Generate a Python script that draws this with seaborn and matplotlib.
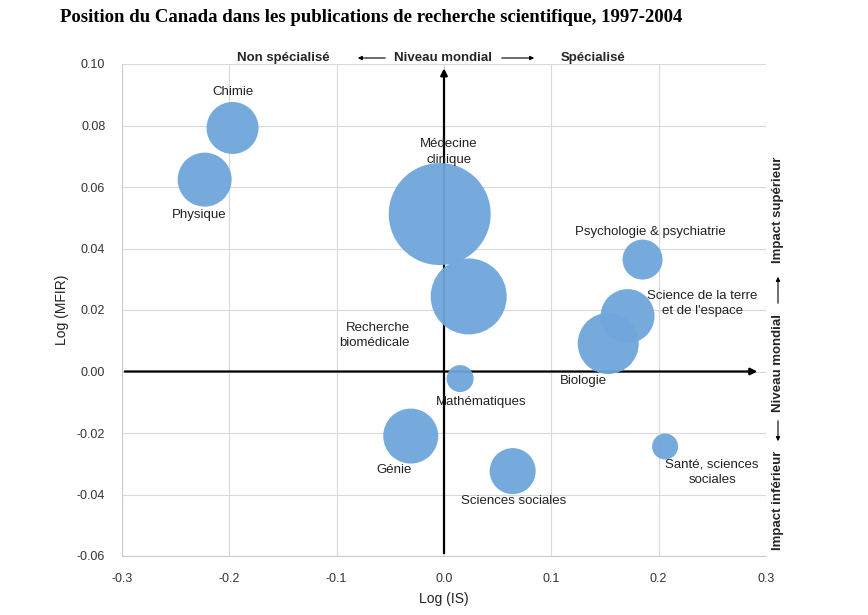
import matplotlib.pyplot as plt
import seaborn as sns
import pandas as pd

# Données
disciplines = ["Chimie", "Physique", "Médecine\nclinique", "Recherche\nbiomédicale",
               "Mathématiques", "Génie", "Sciences sociales", "Psychologie & psychiatrie",
               "Science de la terre\net de l'espace", "Biologie", "Santé, sciences\nsociales"]
log_is = [-0.197, -0.223, -0.004, 0.023, 0.015, -0.031, 0.064, 0.185, 0.171, 0.153, 0.206]
log_mfir = [0.0792, 0.0624, 0.0512, 0.0244, -0.0023, -0.0210, -0.0324, 0.0364, 0.0180, 0.0091, -0.0244]
volume = [676, 729, 2600, 1444, 182, 756, 529, 400, 729, 930, 169]

x_ticks = [-0.3, -0.2, -0.1, 0.0, 0.1, 0.2, 0.3]
y_ticks = [-0.06, -0.04, -0.02, 0.00, 0.02, 0.04, 0.06, 0.08, 0.10]

# décalage des étiquettes (pixels) et alignement
label_offsets = [(0, 36), (-5, -35), (9, 62), (-59, -39), (21, -23), (-17, -34),
                 (1, -30), (8, 28), (75, 13), (-25, -37), (47, -26)]
label_align = ["center", "center", "center", "right", "center", "center",
               "center", "center", "center", "center", "center"]

df = pd.DataFrame({"discipline": disciplines, "Log (IS)": log_is,
                   "Log (MFIR)": log_mfir, "volume": volume})

sns.set_style("white")
plt.rcParams["font.family"] = ["Liberation Sans", "DejaVu Sans"]
plt.rcParams["axes.unicode_minus"] = False

W, H = 868, 615
fig = plt.figure(figsize=(W / 100, H / 100), dpi=100)
ax = fig.add_axes([122 / W, 1 - 556 / H, (766 - 122) / W, (556 - 64) / H])

# bulles
k = 1.44 ** 2
sns.scatterplot(data=df, x="Log (IS)", y="Log (MFIR)", size="volume",
                sizes=(min(volume) * k, max(volume) * k), color="#6fa6dc",
                linewidth=0, alpha=0.95, legend=False, ax=ax, zorder=3)

for i, name in enumerate(disciplines):
    dx, dy = label_offsets[i]
    ax.annotate(name, (log_is[i], log_mfir[i]), xytext=(dx, dy),
                textcoords="offset pixels", ha=label_align[i], va="center",
                fontsize=9.5, color="#222222", linespacing=1.35, zorder=4)

# axes centraux avec flèches
ax.annotate("", xy=(0, 0.0995), xytext=(0, -0.06),
            arrowprops=dict(arrowstyle="-|>", color="black", lw=1.6, mutation_scale=10),
            zorder=2)
ax.annotate("", xy=(0.2945, 0), xytext=(-0.3, 0),
            arrowprops=dict(arrowstyle="-|>", color="black", lw=1.6, mutation_scale=10),
            zorder=2)

ax.set_xlim(-0.3, 0.3)
ax.set_ylim(-0.06, 0.10)
ax.set_xticks(x_ticks)
ax.set_yticks(y_ticks)
ax.set_xticklabels([f"{v:.1f}" for v in x_ticks])
ax.set_yticklabels([f"{v:.2f}" for v in y_ticks])
ax.grid(True, color="#d9d9d9", linewidth=0.8)
ax.set_axisbelow(True)
for side in ["top", "right"]:
    ax.spines[side].set_visible(False)
for side in ["left", "bottom"]:
    ax.spines[side].set_color("#cccccc")
    ax.spines[side].set_linewidth(0.8)
ax.tick_params(axis="both", length=5, width=0.8, color="#cccccc",
               labelsize=9, labelcolor="#333333", pad=7)
ax.set_xlabel("Log (IS)", fontsize=10, color="#222222", labelpad=5)
ax.set_ylabel("Log (MFIR)", fontsize=10, color="#222222", labelpad=6)

# titre
fig.text(60 / W, 1 - 17 / H,
         "Position du Canada dans les publications de recherche scientifique, 1997-2004",
         fontfamily="Liberation Serif", fontweight="bold", fontsize=13.5,
         ha="left", va="center", color="black")

# légende du haut
ty = 1 - 58 / H
fig.text(283 / W, ty, "Non spécialisé", fontsize=9.5, fontweight="bold", ha="center", va="center")
fig.text(443 / W, ty, "Niveau mondial", fontsize=9.5, fontweight="bold", ha="center", va="center")
fig.text(593 / W, ty, "Spécialisé", fontsize=9.5, fontweight="bold", ha="center", va="center")
arrow = dict(arrowstyle="-|>", color="black", lw=0.8, mutation_scale=6)
fig.add_artist(plt.Annotation("", xy=(355 / W, ty), xytext=(388 / W, ty),
                              xycoords="figure fraction", arrowprops=arrow))
fig.add_artist(plt.Annotation("", xy=(537 / W, ty), xytext=(499 / W, ty),
                              xycoords="figure fraction", arrowprops=arrow))

# légende de droite
rx = 778 / W
fig.text(rx, 1 - 210 / H, "Impact supérieur", fontsize=9.5, fontweight="bold",
         rotation=90, ha="center", va="center")
fig.text(rx, 1 - 363 / H, "Niveau mondial", fontsize=9.5, fontweight="bold",
         rotation=90, ha="center", va="center")
fig.text(rx, 1 - 500 / H, "Impact inférieur", fontsize=9.5, fontweight="bold",
         rotation=90, ha="center", va="center")
fig.add_artist(plt.Annotation("", xy=(rx, 1 - 274 / H), xytext=(rx, 1 - 306 / H),
                              xycoords="figure fraction", arrowprops=arrow))
fig.add_artist(plt.Annotation("", xy=(rx, 1 - 444 / H), xytext=(rx, 1 - 418 / H),
                              xycoords="figure fraction", arrowprops=arrow))

fig.savefig("out.png", dpi=100)
